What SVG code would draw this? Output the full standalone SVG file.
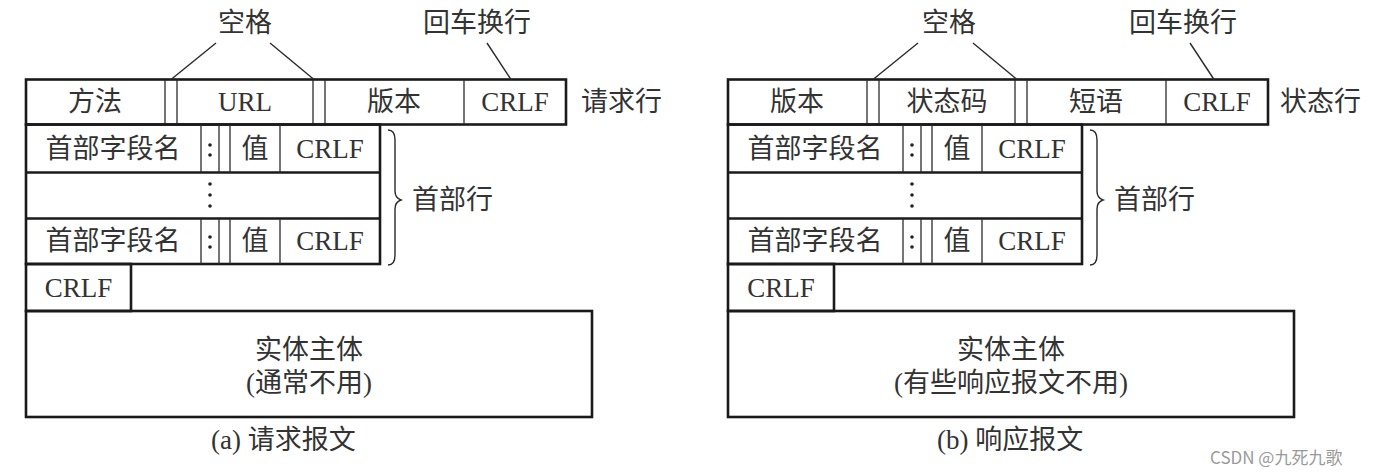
<svg xmlns="http://www.w3.org/2000/svg" width="1377" height="476" viewBox="0 0 1377 476">
<style>
.bg{fill:#ffffff}
.ob{fill:none;stroke:#1a1a1a;stroke-width:2.6}
.hl{stroke:#1a1a1a;stroke-width:2.4}
.in{stroke:#2a2a2a;stroke-width:1.3}
.ln{stroke:#2a2a2a;stroke-width:1.4;fill:none}
.t{font-family:"Liberation Serif","Noto Sans CJK SC",serif;font-size:27px;fill:#333;text-anchor:middle}
.ts{text-anchor:start}
.wm{font-family:"Noto Sans CJK SC","Liberation Sans",sans-serif;font-size:17px;fill:#9a9a9a}
.dot{fill:#222}
</style>
<rect class="bg" x="0" y="0" width="1377" height="476"/>

<g id="request">
  <g id="req-line">
    <rect class="ob" x="26" y="79.5" width="540" height="45"/>
    <line class="in" x1="165" y1="79.5" x2="165" y2="124.5"/>
    <line class="in" x1="177" y1="79.5" x2="177" y2="124.5"/>
    <line class="in" x1="313" y1="79.5" x2="313" y2="124.5"/>
    <line class="in" x1="325" y1="79.5" x2="325" y2="124.5"/>
    <line class="in" x1="464" y1="79.5" x2="464" y2="124.5"/>
    <text class="t" x="95" y="111">方法</text>
    <text class="t" x="245" y="111">URL</text>
    <text class="t" x="394" y="111">版本</text>
    <text class="t" x="515" y="111">CRLF</text>
    <text class="t ts" x="581" y="111">请求行</text>
  </g>
  <g id="req-headers">
    <rect class="ob" x="26" y="124.5" width="354" height="139.5"/>
    <line class="hl" x1="26" y1="172.5" x2="380" y2="172.5"/>
    <line class="hl" x1="26" y1="218.5" x2="380" y2="218.5"/>
    <line class="in" x1="201" y1="124.5" x2="201" y2="172.5"/>
    <line class="in" x1="219" y1="124.5" x2="219" y2="172.5"/>
    <line class="in" x1="230" y1="124.5" x2="230" y2="172.5"/>
    <line class="in" x1="280" y1="124.5" x2="280" y2="172.5"/>
    <line class="in" x1="201" y1="218.5" x2="201" y2="264"/>
    <line class="in" x1="219" y1="218.5" x2="219" y2="264"/>
    <line class="in" x1="230" y1="218.5" x2="230" y2="264"/>
    <line class="in" x1="280" y1="218.5" x2="280" y2="264"/>
    <text class="t" x="113" y="158">首部字段名</text>
    <circle class="dot" cx="210" cy="145" r="1.8"/><circle class="dot" cx="210" cy="155" r="1.8"/>
    <text class="t" x="255" y="158">值</text>
    <text class="t" x="330" y="158">CRLF</text>
    <circle class="dot" cx="210" cy="184" r="1.8"/><circle class="dot" cx="210" cy="195" r="1.8"/><circle class="dot" cx="210" cy="206" r="1.8"/>
    <text class="t" x="113" y="250">首部字段名</text>
    <circle class="dot" cx="210" cy="237" r="1.8"/><circle class="dot" cx="210" cy="247" r="1.8"/>
    <text class="t" x="255" y="250">值</text>
    <text class="t" x="330" y="250">CRLF</text>
    <path class="ln" d="M388,130 Q395,130 395,140 L395,191 Q395,198 401,200 Q395,202 395,209 L395,255 Q395,265 388,265"/>
    <text class="t ts" x="412" y="209">首部行</text>
  </g>
  <g id="req-crlf">
    <rect class="ob" x="26" y="264" width="105" height="47"/>
    <text class="t" x="78.5" y="297">CRLF</text>
  </g>
  <g id="req-body">
    <rect class="ob" x="26" y="311" width="566" height="106"/>
    <text class="t" x="309" y="359">实体主体</text>
    <text class="t" x="309" y="392">(通常不用)</text>
  </g>
  <g id="req-labels">
    <text class="t" x="245" y="32">空格</text>
    <text class="t" x="477" y="32">回车换行</text>
    <text class="t ts" x="211" y="449">(a) 请求报文</text>
  </g>
</g>

<g id="response">
  <g id="resp-line">
    <rect class="ob" x="728" y="79.5" width="540" height="45"/>
    <line class="in" x1="867" y1="79.5" x2="867" y2="124.5"/>
    <line class="in" x1="879" y1="79.5" x2="879" y2="124.5"/>
    <line class="in" x1="1015" y1="79.5" x2="1015" y2="124.5"/>
    <line class="in" x1="1027" y1="79.5" x2="1027" y2="124.5"/>
    <line class="in" x1="1166" y1="79.5" x2="1166" y2="124.5"/>
    <text class="t" x="797" y="111">版本</text>
    <text class="t" x="947" y="111">状态码</text>
    <text class="t" x="1096" y="111">短语</text>
    <text class="t" x="1217" y="111">CRLF</text>
    <text class="t ts" x="1280" y="111">状态行</text>
  </g>
  <g id="resp-headers">
    <rect class="ob" x="728" y="124.5" width="354" height="139.5"/>
    <line class="hl" x1="728" y1="172.5" x2="1082" y2="172.5"/>
    <line class="hl" x1="728" y1="218.5" x2="1082" y2="218.5"/>
    <line class="in" x1="903" y1="124.5" x2="903" y2="172.5"/>
    <line class="in" x1="921" y1="124.5" x2="921" y2="172.5"/>
    <line class="in" x1="932" y1="124.5" x2="932" y2="172.5"/>
    <line class="in" x1="982" y1="124.5" x2="982" y2="172.5"/>
    <line class="in" x1="903" y1="218.5" x2="903" y2="264"/>
    <line class="in" x1="921" y1="218.5" x2="921" y2="264"/>
    <line class="in" x1="932" y1="218.5" x2="932" y2="264"/>
    <line class="in" x1="982" y1="218.5" x2="982" y2="264"/>
    <text class="t" x="815" y="158">首部字段名</text>
    <circle class="dot" cx="912" cy="145" r="1.8"/><circle class="dot" cx="912" cy="155" r="1.8"/>
    <text class="t" x="957" y="158">值</text>
    <text class="t" x="1032" y="158">CRLF</text>
    <circle class="dot" cx="912" cy="184" r="1.8"/><circle class="dot" cx="912" cy="195" r="1.8"/><circle class="dot" cx="912" cy="206" r="1.8"/>
    <text class="t" x="815" y="250">首部字段名</text>
    <circle class="dot" cx="912" cy="237" r="1.8"/><circle class="dot" cx="912" cy="247" r="1.8"/>
    <text class="t" x="957" y="250">值</text>
    <text class="t" x="1032" y="250">CRLF</text>
    <path class="ln" d="M1090,130 Q1097,130 1097,140 L1097,191 Q1097,198 1103,200 Q1097,202 1097,209 L1097,255 Q1097,265 1090,265"/>
    <text class="t ts" x="1114" y="209">首部行</text>
  </g>
  <g id="resp-crlf">
    <rect class="ob" x="728" y="264" width="106" height="47"/>
    <text class="t" x="781" y="297">CRLF</text>
  </g>
  <g id="resp-body">
    <rect class="ob" x="728" y="311" width="566" height="106"/>
    <text class="t" x="1011" y="359">实体主体</text>
    <text class="t" x="1011" y="392">(有些响应报文不用)</text>
  </g>
  <g id="resp-labels">
    <text class="t" x="949" y="32">空格</text>
    <text class="t" x="1183" y="32">回车换行</text>
    <text class="t ts" x="937" y="449">(b) 响应报文</text>
  </g>
</g>

<g id="connectors">
  <line class="ln" x1="216" y1="43" x2="171" y2="79.5"/>
  <line class="ln" x1="270" y1="43" x2="314" y2="79.5"/>
  <line class="ln" x1="487" y1="43" x2="511" y2="79.5"/>
  <line class="ln" x1="918" y1="43" x2="873" y2="79.5"/>
  <line class="ln" x1="973" y1="43" x2="1017" y2="79.5"/>
  <line class="ln" x1="1190" y1="43" x2="1214" y2="79.5"/>
</g>

<text class="wm" x="1210" y="464">CSDN @九死九歌</text>
</svg>
